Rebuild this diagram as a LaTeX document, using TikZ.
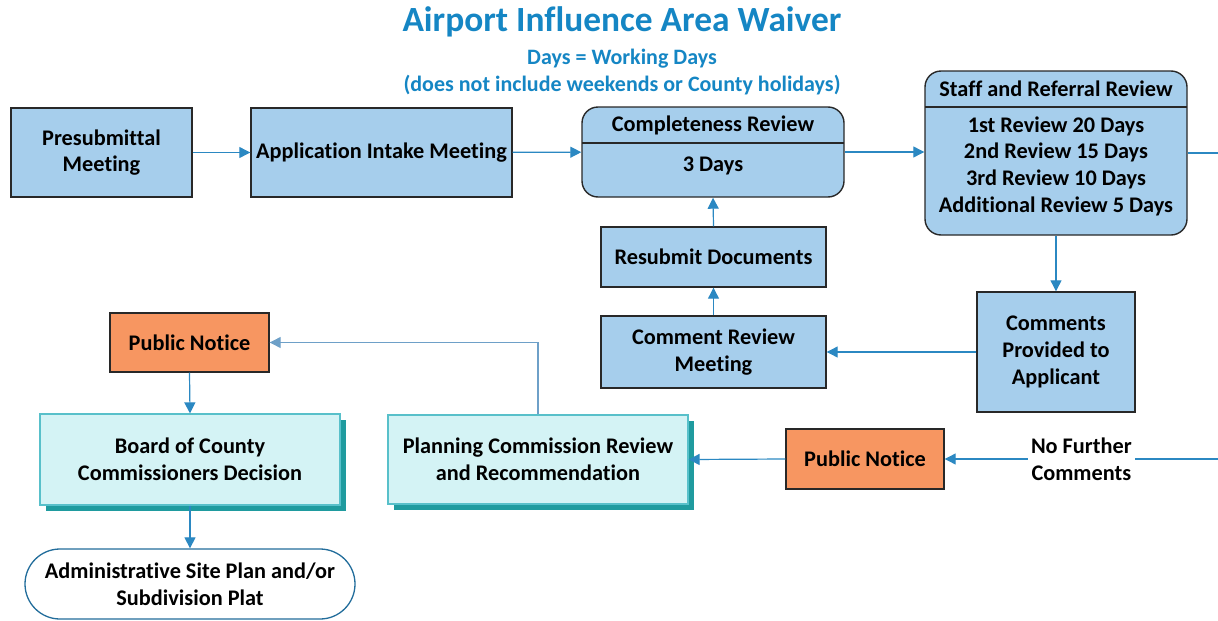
\documentclass[tikz,border=0pt]{standalone}
\usepackage{fontspec}
\setmainfont[Ligatures={NoCommon}]{Carlito}
\usetikzlibrary{arrows.meta,calc}
\definecolor{boxblue}{RGB}{166,206,236}
\definecolor{orangefill}{RGB}{247,150,97}
\definecolor{cyanfill}{RGB}{212,243,245}
\definecolor{cyanedge}{RGB}{88,192,202}
\definecolor{shadowteal}{RGB}{31,155,159}
\definecolor{titleblue}{RGB}{21,134,196}
\definecolor{arrowblue}{RGB}{43,136,194}
\definecolor{lineblue}{RGB}{110,160,200}
\definecolor{edgegray}{RGB}{40,40,40}
\tikzset{
  basetext/.style={font=\fontsize{22.3}{26.7}\selectfont\bfseries, align=center, text=black},
  bluebox/.style={basetext, draw=edgegray, line width=1.4pt, fill=boxblue, inner sep=0pt},
  roundbox/.style={bluebox, rounded corners=16pt},
  orangebox/.style={basetext, draw=edgegray, line width=1.4pt, fill=orangefill, inner sep=0pt},
  cyanbox/.style={basetext, draw=cyanedge, line width=1.2pt, fill=cyanfill, inner sep=0pt},
  endbox/.style={basetext, draw=arrowblue!80!black, line width=1.3pt, fill=white, rounded corners=35pt, inner sep=0pt},
  conn/.style={draw=arrowblue, line width=1.2pt, -{Triangle[length=11pt,width=11pt]}},
  plainconn/.style={draw=arrowblue, line width=1.2pt},
}
\begin{document}
\begin{tikzpicture}[x=1pt,y=-1pt]
\useasboundingbox (0,0) rectangle (1218,621);
\begin{scope}
\clip (0,0) rectangle (1218,621);
% title
\node[font=\fontsize{35.4}{40}\selectfont\bfseries, text=titleblue] (title) at (622,22) {Airport Influence Area Waiver};
\node[font=\fontsize{22}{27}\selectfont\bfseries, text=titleblue, align=center] (sub) at (622,72) {Days = Working Days\\(does not include weekends or County holidays)};

% top row
\node[bluebox, minimum width=181pt, minimum height=89pt] (pre) at (101.5,152.5) {Presubmittal\\Meeting};
\node[bluebox, minimum width=261pt, minimum height=89pt] (app) at (381.5,152.5) {Application Intake Meeting};
\node[roundbox, minimum width=262pt, minimum height=90pt] (cr) at (713,152) {};
\draw[edgegray, line width=1.4pt] (582,143) -- (844,143);
\node[basetext] (crh) at (713,125.5) {Completeness Review};
\node[basetext] (crb) at (713,166) {3 Days};

\node[roundbox, minimum width=262pt, minimum height=164pt] (sr) at (1056,153) {};
\draw[edgegray, line width=1.4pt] (925,107) -- (1187,107);
\node[basetext] (srh) at (1056,89) {Staff and Referral Review};
\node[basetext] (srb) at (1056,166) {1st Review 20 Days\\2nd Review 15 Days\\3rd Review 10 Days\\Additional Review 5 Days};

% middle
\node[bluebox, minimum width=225pt, minimum height=60pt] (res) at (713.5,257) {Resubmit Documents};
\node[bluebox, minimum width=225pt, minimum height=72pt] (crm) at (713.5,352) {Comment Review\\Meeting};
\node[bluebox, minimum width=158pt, minimum height=120pt] (cpa) at (1056,352) {Comments\\Provided to\\Applicant};

% lower
\node[orangebox, minimum width=158pt, minimum height=60pt] (pnr) at (865,459) {Public Notice};
\fill[shadowteal] (394,421) rectangle (694,510);
\node[cyanbox, minimum width=300pt, minimum height=89pt] (pc) at (538,459.5) {Planning Commission Review\\and Recommendation};
\node[orangebox, minimum width=159pt, minimum height=59pt] (pnl) at (189.5,342.5) {Public Notice};
\fill[shadowteal] (46,420) rectangle (346,511);
\node[cyanbox, minimum width=300pt, minimum height=91pt] (bcc) at (190,459.5) {Board of County\\Commissioners Decision};
\node[endbox, minimum width=330pt, minimum height=70pt] (adm) at (190,584) {Administrative Site Plan and/or\\Subdivision Plat};

% connectors
\coordinate (rightout) at (1218,153);
\coordinate (rightin) at (1218,459);
\draw[conn] (pre) -- (app);
\draw[conn] (app) -- (cr);
\draw[conn] (cr) -- (sr.west |- cr);
\draw[plainconn] (sr.east |- rightout) -- (rightout);
\draw[conn] (sr.south) -- (cpa.north);
\draw[conn] (cpa.west) -- (crm.east);
\draw[conn] (crm.north) -- (res.south);
\draw[conn] (res.north) -- (cr.south);
\draw[conn] (rightin) -- node[basetext, fill=white, inner sep=3pt, pos=0.5] (nfc) {No Further\\Comments} (pnr.east);
\draw[conn] (pnr.west) -- (pc.east);
\draw[draw=lineblue, line width=1.2pt, -{Triangle[length=11pt,width=11pt]}] (pc.north) |- (pnl.east);
\draw[conn] (pnl.south) -- (bcc.north);
\draw[conn] (bcc.south) -- (adm.north);
\end{scope}
\end{tikzpicture}
\end{document}
